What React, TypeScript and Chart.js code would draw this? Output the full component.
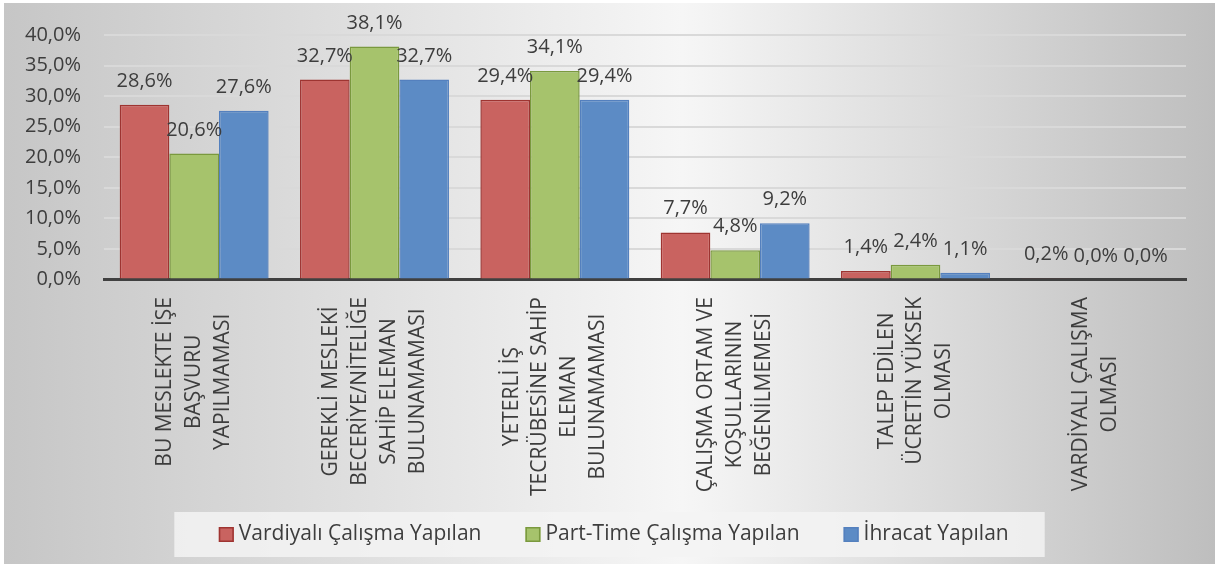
import React, { useEffect, useRef } from "react";
import { Chart, registerables } from "chart.js";

Chart.register(...registerables);

const categoryLines: string[][] = [
  ["BU MESLEKTE İŞE", "BAŞVURU", "YAPILMAMASI"],
  ["GEREKLİ MESLEKİ", "BECERİYE/NİTELİĞE", "SAHİP ELEMAN", "BULUNAMAMASI"],
  ["YETERLİ İŞ", "TECRÜBESİNE SAHİP", "ELEMAN", "BULUNAMAMASI"],
  ["ÇALIŞMA ORTAM VE", "KOŞULLARININ", "BEĞENİLMEMESİ"],
  ["TALEP EDİLEN", "ÜCRETİN YÜKSEK", "OLMASI"],
  ["VARDİYALI ÇALIŞMA", "OLMASI"],
];

const seriesNames = [
  "Vardiyalı Çalışma Yapılan",
  "Part-Time Çalışma Yapılan",
  "İhracat Yapılan",
];
const vardiyali = [28.6, 32.7, 29.4, 7.7, 1.4, 0.2];
const partTime = [20.6, 38.1, 34.1, 4.8, 2.4, 0.0];
const ihracat = [27.6, 32.7, 29.4, 9.2, 1.1, 0.0];

const yMin = 0;
const yMax = 40;
const yStep = 5;

const fills = ["rgb(201,99,96)", "rgb(166,195,108)", "rgb(92,139,197)"];
const borders = ["rgb(158,52,49)", "rgb(122,153,62)", "rgb(84,128,190)"];

const FONT = "'Open Sans', 'DejaVu Sans', sans-serif";
const TEXT = "#3d3d3d";
const fmt = (v: number) => v.toFixed(1).replace(".", ",") + "%";

const W = 1215;
const H = 570;

const bgPlugin = {
  id: "bg",
  beforeDraw(chart: any) {
    const ctx = chart.ctx;
    ctx.save();
    ctx.fillStyle = "#ffffff";
    ctx.fillRect(0, 0, W, H);
    const g = ctx.createLinearGradient(4, 0, W, 0);
    g.addColorStop(0, "#c6c6c6");
    g.addColorStop(0.56, "#f6f6f6");
    g.addColorStop(1, "#bebebe");
    ctx.fillStyle = g;
    ctx.fillRect(4, 3, W - 4, 561);
    ctx.restore();
  },
};

const labelsPlugin = {
  id: "catLabels",
  afterDraw(chart: any) {
    const ctx = chart.ctx;
    const x = chart.scales.x;
    const top = chart.chartArea.bottom + 17.5;
    const lineGap = 28.7;
    ctx.save();
    ctx.font = `21px ${FONT}`;
    ctx.fillStyle = TEXT;
    ctx.textAlign = "center";
    ctx.textBaseline = "middle";
    categoryLines.forEach((lines, i) => {
      const cx = x.getPixelForValue(i);
      const maxW = Math.max(...lines.map((l) => ctx.measureText(l).width));
      const cy = top + maxW / 2;
      const n = lines.length;
      lines.forEach((line, j) => {
        ctx.save();
        ctx.translate(cx + (j - (n - 1) / 2) * lineGap, cy);
        ctx.rotate(-Math.PI / 2);
        ctx.fillText(line, 0, 0);
        ctx.restore();
      });
    });
    ctx.restore();
  },
};

const valuePlugin = {
  id: "values",
  afterDatasetsDraw(chart: any) {
    const ctx = chart.ctx;
    ctx.save();
    ctx.font = `20px ${FONT}`;
    ctx.fillStyle = TEXT;
    ctx.textAlign = "center";
    ctx.textBaseline = "alphabetic";
    chart.data.datasets.forEach((ds: any, di: number) => {
      const meta = chart.getDatasetMeta(di);
      meta.data.forEach((el: any, i: number) => {
        ctx.fillText(fmt(ds.data[i]), el.x, el.y - 18);
      });
    });
    ctx.restore();
  },
};

const legendPlugin = {
  id: "customLegend",
  afterDraw(chart: any) {
    const ctx = chart.ctx;
    ctx.save();
    ctx.font = `21px ${FONT}`;
    const box = 15;
    const gapText = 5;
    const gapItem = 44;
    const widths = chart.data.datasets.map((ds: any) => ctx.measureText(ds.label).width);
    const total =
      widths.reduce((a: number, b: number) => a + b, 0) +
      widths.length * (box + gapText) +
      (widths.length - 1) * gapItem;
    const padL = 44.5;
    const padR = 36;
    const center = 609.5;
    const bgLeft = center - (total + padL + padR) / 2;
    ctx.fillStyle = "rgba(243,243,243,0.85)";
    ctx.fillRect(bgLeft, 512, total + padL + padR, 45);
    let xx = bgLeft + padL;
    const cy = 534.5;
    chart.data.datasets.forEach((ds: any, i: number) => {
      ctx.fillStyle = ds.backgroundColor;
      ctx.fillRect(xx, cy - box / 2, box, box);
      ctx.strokeStyle = ds.borderColor;
      ctx.lineWidth = 1.5;
      ctx.strokeRect(xx + 0.75, cy - box / 2 + 0.75, box - 1.5, box - 1.5);
      ctx.fillStyle = TEXT;
      ctx.textAlign = "left";
      ctx.textBaseline = "middle";
      ctx.fillText(ds.label, xx + box + gapText, cy);
      xx += box + gapText + widths[i] + gapItem;
    });
    ctx.restore();
  },
};

export default function App() {
  const ref = useRef<HTMLCanvasElement | null>(null);

  useEffect(() => {
    if (!ref.current) return;
    const series = [vardiyali, partTime, ihracat];
    const chart = new Chart(ref.current, {
      type: "bar",
      data: {
        labels: categoryLines.map((l) => l.join(" ")),
        datasets: series.map((d, i) => ({
          label: seriesNames[i],
          data: d,
          backgroundColor: fills[i],
          borderColor: borders[i],
          borderWidth: 1.5,
          categoryPercentage: 0.826,
          barPercentage: 1,
        })),
      },
      options: {
        responsive: false,
        animation: false,
        devicePixelRatio: 1,
        layout: { padding: { top: 32, right: 29, left: 0, bottom: 0 } },
        plugins: {
          legend: { display: false },
          tooltip: { enabled: false },
          title: { display: false },
        },
        scales: {
          x: {
            ticks: { display: false },
            grid: { display: false, drawTicks: false },
            border: { display: true, color: "#404040", width: 3 },
            afterFit(scale: any) {
              scale.height = H - 279.5;
            },
          },
          y: {
            min: yMin,
            max: yMax,
            ticks: {
              stepSize: yStep,
              padding: 23,
              color: TEXT,
              font: { family: FONT, size: 20 },
              callback: (v: any) => fmt(Number(v)),
            },
            grid: { color: "#d9d9d9", lineWidth: 2, drawTicks: false },
            border: { display: false },
            afterFit(scale: any) {
              scale.width = 104;
            },
          },
        },
      },
      plugins: [bgPlugin, valuePlugin, labelsPlugin, legendPlugin],
    });
    return () => chart.destroy();
  }, []);

  return (
    <div style={{ position: "fixed", left: 0, top: 0, width: W, height: H, background: "#fff" }}>
      <canvas ref={ref} width={W} height={H} style={{ display: "block" }} />
    </div>
  );
}
